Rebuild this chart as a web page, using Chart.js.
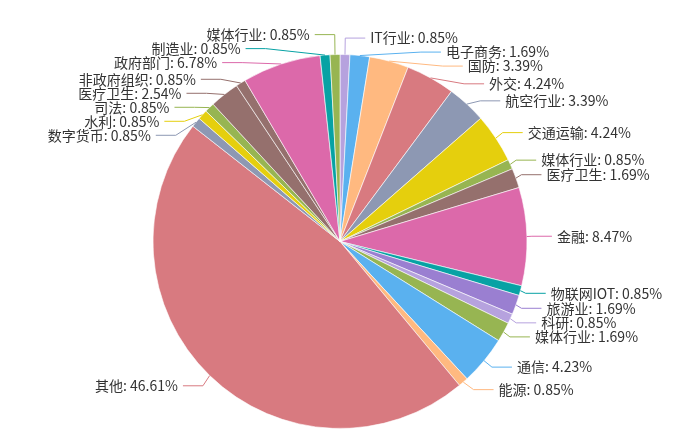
<!DOCTYPE html>
<html>
<head>
<meta charset="utf-8">
<script src="https://cdn.jsdelivr.net/npm/chart.js@4"></script>
<style>
    html, body { margin: 0; padding: 0; background: #fff; }
    #wrap { width: 699px; height: 444px; }
</style>
</head>
<body>
<div id="wrap"><canvas id="pieChart" width="699" height="444"></canvas></div>
<script>
// slices, clockwise from 12 o'clock
const categories = ['IT行业', '电子商务', '国防', '外交', '航空行业', '交通运输', '媒体行业', '医疗卫生',
    '金融', '物联网IOT', '旅游业', '科研', '媒体行业', '通信', '能源', '其他', '数字货币', '水利', '司法',
    '医疗卫生', '非政府组织', '政府部门', '制造业', '媒体行业'];
const shares = [0.85, 1.69, 3.39, 4.24, 3.39, 4.24, 0.85, 1.69, 8.47, 0.85, 1.69, 0.85, 1.69, 4.23,
    0.85, 46.61, 0.85, 0.85, 0.85, 2.54, 0.85, 6.78, 0.85, 0.85];
const sliceColors = ['#b6a2de', '#5ab1ef', '#ffb980', '#d87a80', '#8d98b3', '#e5cf0d', '#97b552', '#95706d',
    '#dc69aa', '#07a2a4', '#9a7fd1', '#b6a2de', '#97b552', '#5ab1ef', '#ffb980', '#d87a80', '#8d98b3',
    '#e5cf0d', '#97b552', '#95706d', '#95706d', '#dc69aa', '#07a2a4', '#97b552'];

const LINE_LEN = 10, LINE_LEN2 = 20, LABEL_GAP = 5, LABEL_H = 14;

// label overlap handling, same idea as echarts pie labels
function adjustSide(list, cx, cy, r, dir, viewH) {
    list.sort((a, b) => a.y - b.y);

    function shiftUp(end, delta) {
        for (let j = end; j >= 0; j--) {
            if (list[j].y - delta < 0) break;
            list[j].y -= delta;
            if (j > 0 && list[j].y > list[j - 1].y + LABEL_H) break;
        }
    }
    function shiftDown(start, end, delta) {
        for (let j = start; j < end; j++) {
            if (list[j].y + delta > viewH) break;
            list[j].y += delta;
            if (j > start && j + 1 < end && list[j + 1].y > list[j].y + LABEL_H) {
                shiftUp(j, delta / 2);
                return;
            }
        }
        shiftUp(end - 1, delta / 2);
    }
    function changeX(items, isDown) {
        let last = isDown ? Number.MAX_VALUE : 0;
        items.forEach(it => {
            const dy = Math.abs(it.y - cy);
            const R = r + LINE_LEN + LINE_LEN2;
            let dx = dy < r + LINE_LEN ? Math.sqrt(R * R - dy * dy) : Math.abs(it.x - cx);
            if (isDown && dx >= last) dx = last - 10;
            if (!isDown && dx <= last) dx = last + 10;
            it.x = cx + dx * dir;
            last = dx;
        });
    }

    let lastY = 0;
    for (let i = 0; i < list.length; i++) {
        const delta = list[i].y - lastY;
        if (delta < 0) shiftDown(i, list.length, -delta);
        lastY = list[i].y + LABEL_H;
    }
    if (viewH - lastY < 0) shiftUp(list.length - 1, lastY - viewH);

    changeX(list.filter(it => it.y < cy), false);
    changeX(list.filter(it => it.y >= cy), true);
}

const outerLabels = {
    id: 'outerLabels',
    afterDatasetsDraw(chart) {
        const ctx = chart.ctx;
        const meta = chart.getDatasetMeta(0);
        let cx = 0, cy = 0, r = 0;
        const items = meta.data.map((arc, i) => {
            const p = arc.getProps(['x', 'y', 'startAngle', 'endAngle', 'outerRadius'], true);
            cx = p.x; cy = p.y; r = p.outerRadius;
            const mid = (p.startAngle + p.endAngle) / 2;
            const dx = Math.cos(mid), dy = Math.sin(mid);
            const dir = dx < 0 ? -1 : 1;
            const x2 = cx + (r + LINE_LEN) * dx;
            const y2 = cy + (r + LINE_LEN) * dy;
            return {
                dir,
                p0: [cx + r * dx, cy + r * dy],
                x: x2 + dir * (LINE_LEN2 + LABEL_GAP),
                y: y2,
                text: categories[i] + ': ' + shares[i].toFixed(2) + '%',
                color: sliceColors[i]
            };
        });

        adjustSide(items.filter(it => it.dir > 0), cx, cy, r, 1, chart.height);
        adjustSide(items.filter(it => it.dir < 0), cx, cy, r, -1, chart.height);

        ctx.save();
        ctx.font = '14px "Noto Sans CJK SC", "Microsoft YaHei", sans-serif';
        ctx.textBaseline = 'middle';
        items.forEach(it => {
            const endX = it.x - it.dir * LABEL_GAP;
            const elbowX = endX - it.dir * LINE_LEN2;
            ctx.strokeStyle = it.color;
            ctx.lineWidth = 1;
            ctx.beginPath();
            ctx.moveTo(it.p0[0], it.p0[1]);
            ctx.lineTo(elbowX, it.y);
            ctx.lineTo(endX, it.y);
            ctx.stroke();

            ctx.fillStyle = '#333';
            ctx.textAlign = it.dir > 0 ? 'left' : 'right';
            ctx.fillText(it.text, it.x, it.y);
        });
        ctx.restore();
    }
};

const ctxPie = document.getElementById('pieChart').getContext('2d');
const pieChart = new Chart(ctxPie, {
    type: 'pie',
    data: {
        labels: categories,
        datasets: [{
            data: shares,
            backgroundColor: sliceColors,
            borderColor: '#fff',
            borderWidth: 0.6,
            hoverOffset: 0,
            radius: 187
        }]
    },
    options: {
        responsive: false,
        animation: false,
        devicePixelRatio: 1,
        layout: {
            padding: { left: 0, right: 19, top: 39, bottom: 0 }
        },
        plugins: {
            legend: { display: false },
            tooltip: {
                callbacks: {
                    label: function(item) {
                        return item.label + ': ' + item.raw + '%';
                    }
                }
            }
        }
    },
    plugins: [outerLabels]
});
</script>
</body>
</html>
